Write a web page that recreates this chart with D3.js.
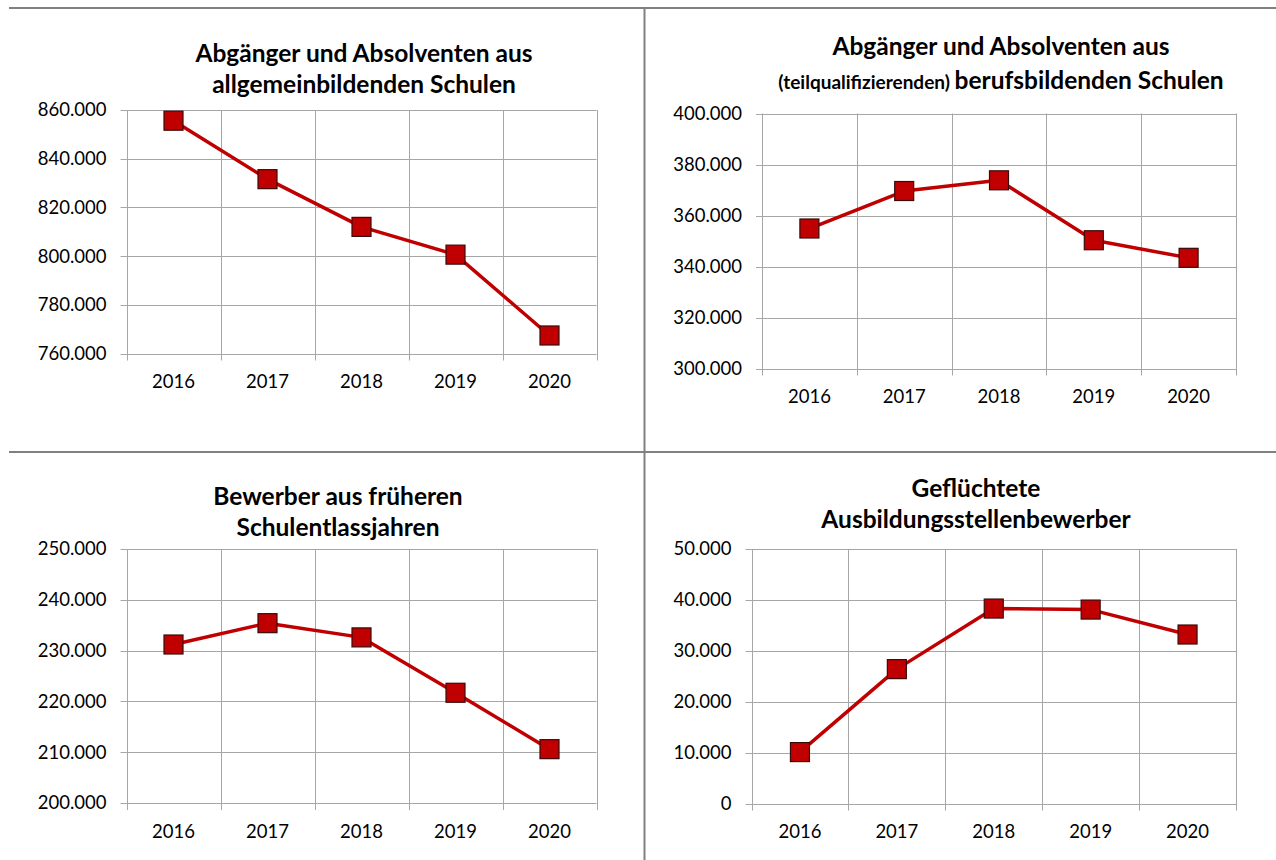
<!DOCTYPE html>
<html>
<head>
<meta charset="utf-8">
<script src="https://cdn.jsdelivr.net/npm/d3@7"></script>
<style>
  body { margin: 0; background: #fff; }
  svg { display: block; font-family: Lato, "Open Sans", sans-serif; }
</style>
</head>
<body>
<div id="vis"></div>
<script>
// DATA
const years = ["2016", "2017", "2018", "2019", "2020"];

const allgemeinValues = [855600, 831600, 812000, 800600, 767400];
const berufsValues = [354900, 369600, 373800, 350300, 343400];
const fruehereValues = [231200, 235400, 232600, 221700, 210600];
const gefluechteteValues = [10100, 26400, 38300, 38100, 33200];

const allgemeinTicks = [760000, 780000, 800000, 820000, 840000, 860000];
const berufsTicks = [300000, 320000, 340000, 360000, 380000, 400000];
const fruehereTicks = [200000, 210000, 220000, 230000, 240000, 250000];
const gefluechteteTicks = [0, 10000, 20000, 30000, 40000, 50000];

const width = 1276, height = 860;
const red = "#c00000";
const gridColor = "#a6a6a6";

const de = d3.formatLocale({decimal: ",", thousands: ".", grouping: [3], currency: ["", " €"]});
const fmt = de.format(",d");

const svg = d3.select("#vis").append("svg")
  .attr("width", width)
  .attr("height", height);

// frame lines between panels
const frame = svg.append("g").attr("stroke", "#808080").attr("stroke-width", 2);
frame.append("line").attr("x1", 9).attr("x2", width).attr("y1", 8).attr("y2", 8);
frame.append("line").attr("x1", 9).attr("x2", width).attr("y1", 452).attr("y2", 452);
frame.append("line").attr("x1", 644.5).attr("x2", 644.5).attr("y1", 8).attr("y2", height);

// panel setup
const panels = [
  {values: allgemeinValues, ticks: allgemeinTicks,
   box: {x0: 126.5, x1: 596.5, y0: 110, y1: 353.5},
   title: {cx: 364, lines: [
     {y: 62, parts: [{t: "Abgänger und Absolventen aus"}]},
     {y: 93, parts: [{t: "allgemeinbildenden Schulen"}]}]}},
  {values: berufsValues, ticks: berufsTicks,
   box: {x0: 762, x1: 1236, y0: 113.5, y1: 368.5},
   title: {cx: 1001, lines: [
     {y: 55, parts: [{t: "Abgänger und Absolventen aus"}]},
     {y: 89, parts: [{t: "(teilqualifizierenden) ", small: true}, {t: "berufsbildenden Schulen"}]}]}},
  {values: fruehereValues, ticks: fruehereTicks,
   box: {x0: 126.5, x1: 596.5, y0: 549, y1: 803},
   title: {cx: 338, lines: [
     {y: 505, parts: [{t: "Bewerber aus früheren"}]},
     {y: 536, parts: [{t: "Schulentlassjahren"}]}]}},
  {values: gefluechteteValues, ticks: gefluechteteTicks,
   box: {x0: 751.5, x1: 1236, y0: 549, y1: 803.5},
   title: {cx: 976, lines: [
     {y: 497, parts: [{t: "Geflüchtete"}]},
     {y: 528, parts: [{t: "Ausbildungsstellenbewerber"}]}]}}
];

function drawPanel(p) {
  const b = p.box;
  const x = d3.scaleBand().domain(years).range([b.x0, b.x1]).padding(0);
  const y = d3.scaleLinear().domain(d3.extent(p.ticks)).range([b.y1, b.y0]);

  const g = svg.append("g");

  // horizontal grid
  g.append("g").selectAll("line").data(p.ticks).join("line")
    .attr("x1", b.x0 - 6).attr("x2", b.x1)
    .attr("y1", d => Math.round(y(d)) + 0.5).attr("y2", d => Math.round(y(d)) + 0.5)
    .attr("stroke", gridColor).attr("stroke-width", 1);

  // vertical grid at band edges, with small tick below the axis
  const edges = years.map(d => x(d)).concat([b.x1]);
  g.append("g").selectAll("line").data(edges).join("line")
    .attr("x1", d => Math.round(d) + 0.5).attr("x2", d => Math.round(d) + 0.5)
    .attr("y1", b.y0).attr("y2", b.y1 + 7)
    .attr("stroke", gridColor).attr("stroke-width", 1);

  // y tick labels
  g.append("g").selectAll("text").data(p.ticks).join("text")
    .attr("x", b.x0 - 20)
    .attr("y", d => y(d))
    .attr("dy", "0.35em")
    .attr("text-anchor", "end")
    .attr("font-size", 18.5)
    .attr("fill", "#000")
    .text(d => fmt(d));

  // x labels
  g.append("g").selectAll("text").data(years).join("text")
    .attr("x", d => x(d) + x.bandwidth() / 2)
    .attr("y", b.y1 + 28.5)
    .attr("dy", "0.35em")
    .attr("text-anchor", "middle")
    .attr("font-size", 18.5)
    .attr("fill", "#000")
    .text(d => d);

  // line
  const line = d3.line()
    .x((d, i) => x(years[i]) + x.bandwidth() / 2)
    .y(d => y(d));

  g.append("path")
    .datum(p.values)
    .attr("d", line)
    .attr("fill", "none")
    .attr("stroke", red)
    .attr("stroke-width", 3.5)
    .attr("stroke-linejoin", "round");

  // square markers
  const s = 19;
  g.append("g").selectAll("rect").data(p.values).join("rect")
    .attr("x", (d, i) => x(years[i]) + x.bandwidth() / 2 - s / 2)
    .attr("y", d => y(d) - s / 2)
    .attr("width", s).attr("height", s)
    .attr("fill", red)
    .attr("stroke", "#3a0a0a")
    .attr("stroke-width", 1.2);

  // title
  p.title.lines.forEach(l => {
    const t = g.append("text")
      .attr("x", p.title.cx)
      .attr("y", l.y)
      .attr("text-anchor", "middle")
      .attr("fill", "#000");
    l.parts.forEach(pt => {
      t.append("tspan")
        .attr("font-size", pt.small ? 19 : 24.5)
        .attr("font-weight", 700)
        .text(pt.t);
    });
  });
}

panels.forEach(drawPanel);
</script>
</body>
</html>
